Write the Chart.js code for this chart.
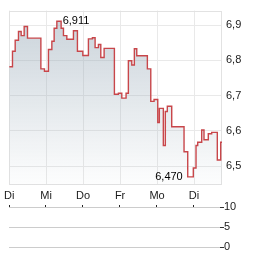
<!DOCTYPE html>
<html>
<head>
<meta charset="utf-8">
<script src="https://cdn.jsdelivr.net/npm/chart.js@4.4.0/dist/chart.umd.min.js"></script>
<style>
  html, body { margin: 0; padding: 0; background: #fff; }
  #wrap { position: relative; width: 264px; height: 255px; }
  #price { position: absolute; left: 0; top: 0; }
  #volume { position: absolute; left: 0; top: 200px; }
</style>
</head>
<body>
<div id="wrap">
  <canvas id="price" width="264" height="200"></canvas>
  <canvas id="volume" width="264" height="55"></canvas>
</div>
<script>
// time in trading days since the first "Di", and the price at each step
const days = [
  0.000, 0.089, 0.162, 0.251, 0.324, 0.405, 0.495, 0.857, 0.954, 1.062,
  1.154, 1.216, 1.289, 1.405, 1.468, 1.559, 1.738, 1.846, 1.992, 2.143,
  2.251, 2.324, 2.414, 2.478, 2.568, 2.846, 2.954, 3.046, 3.162, 3.224,
  3.316, 3.386, 3.451, 3.738, 3.830, 3.919, 4.019, 4.062, 4.170, 4.224,
  4.278, 4.397, 4.730, 4.830, 4.981, 5.054, 5.100, 5.208, 5.270, 5.386,
  5.478, 5.630, 5.722, 5.757,
];
const prices = [
  6.782, 6.826, 6.857, 6.882, 6.870, 6.896, 6.863, 6.776, 6.769, 6.831,
  6.854, 6.891, 6.911, 6.891, 6.870, 6.860, 6.884, 6.826, 6.814, 6.861,
  6.864, 6.836, 6.845, 6.808, 6.834, 6.704, 6.707, 6.693, 6.707, 6.799,
  6.787, 6.833, 6.813, 6.776, 6.684, 6.689, 6.624, 6.664, 6.559, 6.655,
  6.670, 6.612, 6.541, 6.470, 6.495, 6.559, 6.568, 6.603, 6.575, 6.592,
  6.596, 6.518, 6.568, 6.568,
];
const dayLabels = ["Di", "Mi", "Do", "Fr", "Mo", "Di"];
const priceTicks = [6.5, 6.6, 6.7, 6.8, 6.9];
const volumeTicks = [0, 5, 10];

Chart.defaults.font.family = "'Liberation Sans', Arial, sans-serif";
Chart.defaults.font.size = 11;
Chart.defaults.color = "#1a1a1a";

const fmt = (v, n) => v.toFixed(n).replace(".", ",");
const dayTicks = (axis) => {
  axis.ticks = dayLabels.map((_, i) => ({ value: i }));
};

// light frame round the price plot
const frame = {
  id: "frame",
  beforeDatasetsDraw(chart) {
    const { ctx, chartArea: a } = chart;
    ctx.save();
    ctx.strokeStyle = "#e2e2e2";
    ctx.lineWidth = 1;
    ctx.strokeRect(Math.round(a.left) + 0.5, Math.round(a.top) + 0.5,
      Math.round(a.right - a.left) - 1, Math.round(a.bottom - a.top) - 1);
    ctx.restore();
  },
};

// high / low labels
const extremes = {
  id: "extremes",
  afterDatasetsDraw(chart) {
    const { ctx, scales: { x, y } } = chart;
    const hi = prices.indexOf(Math.max(...prices));
    const lo = prices.indexOf(Math.min(...prices));
    ctx.save();
    ctx.font = "11px 'Liberation Sans', Arial, sans-serif";
    ctx.fillStyle = "#000";
    ctx.textBaseline = "middle";
    ctx.textAlign = "left";
    ctx.fillText(fmt(prices[hi], 3), x.getPixelForValue(days[hi + 1]) + 1.5, y.getPixelForValue(prices[hi]));
    ctx.textAlign = "right";
    ctx.fillText(fmt(prices[lo], 3), x.getPixelForValue(days[lo]) - 5, y.getPixelForValue(prices[lo]));
    ctx.restore();
  },
};

const price = document.getElementById("price").getContext("2d");

let priceChart = new Chart(price, {
  type: "line",
  data: {
    datasets: [
      {
        data: days.map((d, i) => ({ x: d, y: prices[i] })),
        stepped: true,
        borderColor: "#c8464a",
        borderWidth: 1.4,
        pointRadius: 0,
        fill: "start",
        backgroundColor: (context) => {
          const { ctx, chartArea } = context.chart;
          if (!chartArea) return null;
          const g = ctx.createLinearGradient(0, chartArea.top, 0, chartArea.bottom);
          g.addColorStop(0, "rgba(150,168,182,0.52)");
          g.addColorStop(1, "rgba(150,168,182,0.02)");
          return g;
        },
      },
    ],
  },
  options: {
    responsive: false,
    animation: false,
    layout: { padding: { left: 9, top: 7, right: 0, bottom: 0 } },
    plugins: { legend: { display: false }, tooltip: { enabled: false } },
    scales: {
      x: {
        type: "linear",
        min: 0,
        max: 5.757,
        afterBuildTicks: dayTicks,
        afterFit: (axis) => { axis.height = 15; },
        grid: { color: "#e9e9e9", drawTicks: false },
        border: { display: false },
        ticks: { padding: 4, maxRotation: 0, callback: (v) => dayLabels[v] },
      },
      y: {
        position: "right",
        min: 6.447,
        max: 6.941,
        afterBuildTicks: (axis) => { axis.ticks = priceTicks.map((v) => ({ value: v })); },
        afterFit: (axis) => { axis.width = 42; },
        grid: { color: "#e9e9e9", drawTicks: false },
        border: { display: false },
        ticks: { padding: 4, callback: (v) => fmt(v, 1) },
      },
    },
  },
  plugins: [frame, extremes],
});

// volume

const volume = document.getElementById("volume").getContext("2d");

let volumeChart = new Chart(volume, {
  type: "line",
  data: { datasets: [] },
  options: {
    responsive: false,
    animation: false,
    layout: { padding: { left: 9, top: 0, right: 0, bottom: 8 } },
    plugins: { legend: { display: false }, tooltip: { enabled: false } },
    scales: {
      x: {
        type: "linear",
        position: "top",
        min: 0,
        max: 5.703,
        afterBuildTicks: dayTicks,
        afterFit: (axis) => { axis.height = 7; },
        grid: { drawOnChartArea: false, tickLength: 2, tickColor: "#222" },
        border: { display: false },
        ticks: { display: false },
      },
      y: {
        position: "right",
        min: 0,
        max: 10,
        afterBuildTicks: (axis) => { axis.ticks = volumeTicks.map((v) => ({ value: v })); },
        afterFit: (axis) => { axis.width = 44; },
        grid: { color: "#cccccc", tickLength: 4, tickColor: "#333" },
        border: { display: false },
        ticks: { padding: 0 },
      },
    },
  },
});
</script>
</body>
</html>
